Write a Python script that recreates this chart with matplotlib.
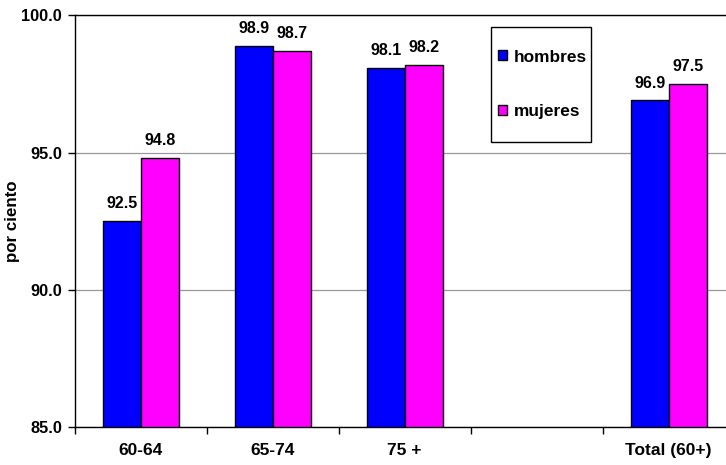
import matplotlib
matplotlib.use("Agg")
import matplotlib.pyplot as plt
from matplotlib.patches import Rectangle
import numpy as np

plt.rcParams['font.family'] = ['Liberation Sans', 'DejaVu Sans']
plt.rcParams['font.weight'] = 'bold'

categories = ["60-64", "65-74", "75 +", "", "Total (60+)"]
hombres = [92.5, 98.9, 98.1, None, 96.9]
mujeres = [94.8, 98.7, 98.2, None, 97.5]
series_names = ["hombres", "mujeres"]
colors = ["#0000FF", "#FF00FF"]
yticks = [85.0, 90.0, 95.0, 100.0]

FS_VAL = 11.5
FS_TICK = 11.8
FS_CAT = 12.5
FS_LAB = 12.2
FS_LEG = 12.4
W, H = 726, 465
fig = plt.figure(figsize=(W / 100, H / 100), dpi=100)
ax = fig.add_axes([74.7 / W, 1 - 426.7 / H, (734.7 - 74.7) / W, (426.7 - 15.5) / H])

x = np.arange(len(categories))
bw = 0.288
for vals, off, col, name in [(hombres, -bw / 2, colors[0], series_names[0]),
                             (mujeres, bw / 2, colors[1], series_names[1])]:
    xs = [xi + off for xi, v in zip(x, vals) if v is not None]
    vs = [v for v in vals if v is not None]
    ax.bar(xs, [v - 85 for v in vs], bottom=85, width=bw, color=col,
           edgecolor='black', linewidth=1.0, label=name, zorder=3)
    for xi, v in zip(xs, vs):
        ax.annotate(f"{v:.1f}", (xi, v), xytext=(0, 7), textcoords='offset points',
                    ha='center', va='bottom', fontsize=FS_VAL, fontweight='bold')

ax.set_xlim(-0.5, len(categories) - 0.5)
ax.set_ylim(85, 100)
ax.set_yticks(yticks)
ax.set_yticklabels([f"{t:.1f}" for t in yticks], fontsize=FS_TICK, fontweight='bold')
ax.set_xticks(np.arange(len(categories) + 1) - 0.5, minor=False)
ax.set_xticklabels([])
ax.set_xticks(x, minor=True)
ax.set_xticklabels(categories, minor=True, fontsize=FS_CAT, fontweight='bold')
ax.tick_params(axis='x', which='minor', length=0, pad=11.5)
ax.tick_params(axis='x', which='major', length=5, width=1, direction='out')
ax.tick_params(axis='y', length=5, width=1, direction='out', pad=4)

ax.grid(axis='y', color='#999999', linewidth=0.9, zorder=0)
ax.set_axisbelow(True)
for s in ['left', 'bottom', 'top']:
    ax.spines[s].set_color('black')
    ax.spines[s].set_linewidth(1.0)
ax.spines['right'].set_visible(False)

ax.set_ylabel("por ciento", fontsize=FS_LAB, fontweight='bold')
ax.yaxis.set_label_coords((20 - 74.7) / 660, 0.5)

# legend frame
fig.patches.append(Rectangle((491 / W, 1 - 142 / H), 100 / W, 115 / H,
                             transform=fig.transFigure, facecolor='white',
                             edgecolor='black', linewidth=1.0, zorder=5))
leg = fig.legend(loc='upper left', bbox_to_anchor=(498 / W, 1 - 49.5 / H),
                 borderaxespad=0, frameon=False, borderpad=0,
                 labelspacing=2.3, handlelength=0.52, handleheight=0.52,
                 handletextpad=0.38, prop={'weight': 'bold', 'size': FS_LEG})
leg.set_zorder(6)

fig.savefig("out.png", dpi=100)
